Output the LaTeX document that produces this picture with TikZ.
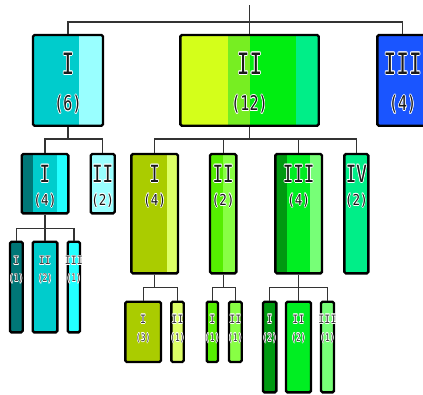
\documentclass[tikz,border=0pt]{standalone}
\usepackage{fontspec}
\usepackage{graphicx}
\usepackage{contour}
\newfontfamily\monof{DejaVu Sans Mono}
\contournumber{8}

% palette
\definecolor{tealD}{HTML}{007777}
\definecolor{tealM}{HTML}{00CCCC}
\definecolor{tealL}{HTML}{22FFFF}
\definecolor{tealP}{HTML}{99FFFF}
\definecolor{limeY}{HTML}{D4FF1A}
\definecolor{limeG}{HTML}{77EE22}
\definecolor{greenB}{HTML}{00EE11}
\definecolor{mint}{HTML}{00EE88}
\definecolor{blueB}{HTML}{1A55FF}
\definecolor{olive}{HTML}{AACC00}
\definecolor{oliveL}{HTML}{DDFF66}
\definecolor{grA}{HTML}{55EE00}
\definecolor{grAL}{HTML}{88FF44}
\definecolor{grD}{HTML}{009911}
\definecolor{grM}{HTML}{00EE22}
\definecolor{grL}{HTML}{77FF77}
\definecolor{ink}{HTML}{1A1A1A}
\definecolor{inkS}{HTML}{3A3A3A}
\definecolor{wire}{HTML}{333333}

% label text: mono font, stretched vertically, with a white halo of width #4
\newcommand\lbl[4]{\contourlength{#4pt}\scalebox{1}[#3]{\fontsize{#1}{#1}\selectfont\monof\contour{white}{#2}}}

% box frame drawn as a named node over its coloured stripes
\newcommand\frm[5]{\node[frame, minimum width={#4pt-#2pt}, minimum height={#5pt-#3pt}] (#1) at ({(#2+#4)/2},{(#3+#5)/2}) {};}
\newcommand\strp[5]{\fill[#5] (#1,#2) rectangle (#3,#4);}

\tikzset{
  frame/.style={draw=black, line width=2.4pt, rounded corners=1.5pt, inner sep=0pt, fill=none},
  conn/.style={draw=wire, line width=1.3pt},
  txt/.style={inner sep=0pt, text=ink},
  txts/.style={inner sep=0pt, text=inkS},
}

\begin{document}
\begin{tikzpicture}[x=1pt, y=-1pt]
\useasboundingbox (0,0) rectangle (423,394);
\fill[white] (0,0) rectangle (423,394);

% ---------- level 1 ----------
\strp{33}{35}{79.3}{125.7}{tealM}
\strp{79.3}{35}{103}{125.7}{tealP}
\frm{b1}{33}{35}{103}{125.7}

\strp{180.3}{35}{227.7}{125.7}{limeY}
\strp{227.7}{35}{250.3}{125.7}{limeG}
\strp{250.3}{35}{296.3}{125.7}{greenB}
\strp{296.3}{35}{318.7}{125.7}{mint}
\frm{b2}{180.3}{35}{318.7}{125.7}

\strp{377.3}{35}{428}{125.7}{blueB}
\frm{b3}{377.3}{35}{428}{125.7}

% ---------- level 2 ----------
\strp{21.7}{154}{33.3}{213.3}{tealD}
\strp{33.3}{154}{56.7}{213.3}{tealM}
\strp{56.7}{154}{68.3}{213.3}{tealL}
\frm{c1}{21.7}{154}{68.3}{213.3}

\strp{90.7}{154}{114.7}{213.3}{tealP}
\frm{c2}{90.7}{154}{114.7}{213.3}

\strp{131.3}{154}{166.5}{273.3}{olive}
\strp{166.5}{154}{178}{273.3}{oliveL}
\frm{c3}{131.3}{154}{178}{273.3}

\strp{210}{154}{223.3}{273.3}{grA}
\strp{223.3}{154}{236.3}{273.3}{grAL}
\frm{c4}{210}{154}{236.3}{273.3}

\strp{275.3}{154}{287}{273.3}{grD}
\strp{287}{154}{310.3}{273.3}{grM}
\strp{310.3}{154}{322}{273.3}{grL}
\frm{c5}{275.3}{154}{322}{273.3}

\strp{344.3}{154}{368.3}{273.3}{mint}
\frm{c6}{344.3}{154}{368.3}{273.3}

% ---------- level 3 ----------
\strp{10}{241.7}{22.7}{332.3}{tealD}
\frm{d1}{10}{241.7}{22.7}{332.3}
\strp{32.7}{241.7}{57.3}{332.3}{tealM}
\frm{d2}{32.7}{241.7}{57.3}{332.3}
\strp{67.7}{241.7}{80}{332.3}{tealL}
\frm{d3}{67.7}{241.7}{80}{332.3}

\strp{125.3}{301.7}{161}{362}{olive}
\frm{e1}{125.3}{301.7}{161}{362}
\strp{171.3}{301.7}{183.7}{362}{oliveL}
\frm{e2}{171.3}{301.7}{183.7}{362}

\strp{206.7}{301.7}{218}{362}{grA}
\frm{f1}{206.7}{301.7}{218}{362}
\strp{229}{301.7}{241.7}{362}{grAL}
\frm{f2}{229}{301.7}{241.7}{362}

\strp{263}{301.7}{276.3}{392.3}{grD}
\frm{g1}{263}{301.7}{276.3}{392.3}
\strp{286}{301.7}{311}{392.3}{grM}
\frm{g2}{286}{301.7}{311}{392.3}
\strp{321}{301.7}{334}{392.3}{grL}
\frm{g3}{321}{301.7}{334}{392.3}

% ---------- connectors ----------
\coordinate (root) at (249.5,5);
\coordinate (r0) at (0,22);
\coordinate (r1) at (0,139);
\coordinate (r2) at (0,228.3);
\coordinate (r3) at (0,287.5);

\draw[conn] (root) -- (b2.north);
\draw[conn] (b1.north) -- (b1.north |- r0) -- (b3.north |- r0) -- (b3.north);

\draw[conn] (b1.south) -- (b1.south |- r1);
\draw[conn] (c1.north) -- (c1.north |- r1) -| (c2.north);
\draw[conn] (b2.south) -- (b2.south |- r1);
\draw[conn] (c3.north) -- (c3.north |- r1) -| (c6.north);
\draw[conn] (c4.north) -- (c4.north |- r1);
\draw[conn] (c5.north) -- (c5.north |- r1);

\draw[conn] (c1.south) -- (c1.south |- r2);
\draw[conn] (d1.north) -- (d1.north |- r2) -| (d3.north);
\draw[conn] (d2.north) -- (d2.north |- r2);

\draw[conn] (c3.south) -- (c3.south |- r3);
\draw[conn] (e1.north) -- (e1.north |- r3) -| (e2.north);

\draw[conn] (c4.south) -- (c4.south |- r3);
\draw[conn] (f1.north) -- (f1.north |- r3) -| (f2.north);

\draw[conn] (c5.south) -- (c5.south |- r3);
\draw[conn] (g1.north) -- (g1.north |- r3) -| (g3.north);
\draw[conn] (g2.north) -- (g2.north |- r3);

% ---------- labels ----------
\node[txt] (b1a) at (68,64) {\lbl{21}{I}{1.4}{0.8}};
\node[txt] (b1b) at (68,105) {\lbl{15}{(6)}{1.35}{0.7}};
\node[txt] (b2a) at (249.5,64) {\lbl{21}{II}{1.4}{0.8}};
\node[txt] (b2b) at (249.5,105) {\lbl{15}{(12)}{1.35}{0.7}};
\node[txt] (b3a) at (402.7,64) {\lbl{21}{III}{1.4}{0.8}};
\node[txt] (b3b) at (402.7,105) {\lbl{15}{(4)}{1.35}{0.7}};

\node[txt] (c1a) at (45,174) {\lbl{17.5}{I}{1.35}{0.7}};
\node[txt] (c1b) at (45,201) {\lbl{12.5}{(4)}{1.2}{0.6}};
\node[txt] (c2a) at (102.7,174) {\lbl{17.5}{II}{1.35}{0.7}};
\node[txt] (c2b) at (102.7,201) {\lbl{12.5}{(2)}{1.2}{0.6}};
\node[txt] (c3a) at (154.7,174) {\lbl{17.5}{I}{1.35}{0.7}};
\node[txt] (c3b) at (154.7,201) {\lbl{12.5}{(4)}{1.2}{0.6}};
\node[txt] (c4a) at (223.2,174) {\lbl{17.5}{II}{1.35}{0.7}};
\node[txt] (c4b) at (223.2,201) {\lbl{12.5}{(2)}{1.2}{0.6}};
\node[txt] (c5a) at (298.7,174) {\lbl{17.5}{III}{1.35}{0.7}};
\node[txt] (c5b) at (298.7,201) {\lbl{12.5}{(4)}{1.2}{0.6}};
\node[txt] (c6a) at (356.3,174) {\lbl{17.5}{IV}{1.35}{0.7}};
\node[txt] (c6b) at (356.3,201) {\lbl{12.5}{(2)}{1.2}{0.6}};

\node[txts] (d1a) at (16.3,261) {\lbl{10}{I}{1.15}{0.55}};
\node[txts] (d1b) at (16.3,279) {\lbl{8}{(1)}{1.3}{0.5}};
\node[txts] (d2a) at (45,261) {\lbl{10}{II}{1.15}{0.55}};
\node[txts] (d2b) at (45,279) {\lbl{8}{(2)}{1.3}{0.5}};
\node[txts] (d3a) at (73.8,261) {\lbl{10}{III}{1.15}{0.55}};
\node[txts] (d3b) at (73.8,279) {\lbl{8}{(1)}{1.3}{0.5}};

\node[txts] (e1a) at (143.2,319.5) {\lbl{10}{I}{1.15}{0.55}};
\node[txts] (e1b) at (143.2,338.5) {\lbl{8}{(3)}{1.3}{0.5}};
\node[txts] (e2a) at (177.5,319.5) {\lbl{10}{II}{1.15}{0.55}};
\node[txts] (e2b) at (177.5,338.5) {\lbl{8}{(1)}{1.3}{0.5}};

\node[txts] (f1a) at (212.3,319.5) {\lbl{10}{I}{1.15}{0.55}};
\node[txts] (f1b) at (212.3,338.5) {\lbl{8}{(1)}{1.3}{0.5}};
\node[txts] (f2a) at (235.3,319.5) {\lbl{10}{II}{1.15}{0.55}};
\node[txts] (f2b) at (235.3,338.5) {\lbl{8}{(1)}{1.3}{0.5}};

\node[txts] (g1a) at (269.7,319.5) {\lbl{10}{I}{1.15}{0.55}};
\node[txts] (g1b) at (269.7,338.5) {\lbl{8}{(2)}{1.3}{0.5}};
\node[txts] (g2a) at (298.5,319.5) {\lbl{10}{II}{1.15}{0.55}};
\node[txts] (g2b) at (298.5,338.5) {\lbl{8}{(2)}{1.3}{0.5}};
\node[txts] (g3a) at (327.5,319.5) {\lbl{10}{III}{1.15}{0.55}};
\node[txts] (g3b) at (327.5,338.5) {\lbl{8}{(1)}{1.3}{0.5}};
\end{tikzpicture}
\end{document}
